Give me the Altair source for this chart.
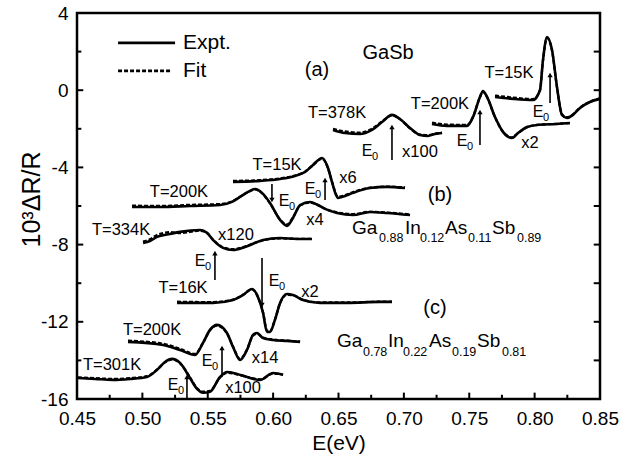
import altair as alt
import pandas as pd

FONT = "Liberation Sans"

# ---------------- Panel (a): GaSb ----------------
a378_x = [0.6458, 0.655, 0.6664, 0.6756, 0.6833, 0.6909, 0.697, 0.7047, 0.7123, 0.7184, 0.7238, 0.7292]
a378_y = [-2.06, -2.22, -2.27, -2.06, -1.65, -1.28, -1.49, -1.96, -2.32, -2.37, -2.27, -2.22]
a378_fit = [-2.00, -2.14, -2.20, -2.00, -1.62, -1.30, -1.50, -1.98, -2.30, -2.33, -2.25, -2.20]

a200_x = [0.7215, 0.733, 0.7483, 0.7529, 0.7582, 0.7605, 0.7636, 0.7697, 0.7758, 0.7827, 0.7873, 0.7942, 0.8018, 0.8171, 0.827]
a200_y = [-1.75, -1.85, -1.85, -1.39, -0.35, -0.04, -0.35, -1.39, -2.16, -2.48, -2.22, -1.91, -1.80, -1.75, -1.70]
a200_fit = [-1.68, -1.78, -1.80, -1.36, -0.36, -0.08, -0.36, -1.40, -2.15, -2.45, -2.22, -1.92, -1.80, -1.74, -1.70]

a15_x = [0.7697, 0.7835, 0.7988, 0.8041, 0.8064, 0.8095, 0.8133, 0.8171, 0.8209, 0.8248, 0.8293, 0.8347, 0.8423, 0.85]
a15_y = [-0.35, -0.45, -0.51, 0.01, 1.57, 2.76, 2.08, 0.17, -1.28, -1.44, -1.28, -0.92, -0.61, -0.45]
a15_fit = [-0.28, -0.38, -0.46, 0.00, 1.55, 2.70, 2.05, 0.15, -1.25, -1.40, -1.25, -0.90, -0.60, -0.42]

# ---------------- Panel (b): Ga0.88In0.12As0.11Sb0.89 ----------------
b15_x = [0.5693, 0.59, 0.6053, 0.6167, 0.6244, 0.6305, 0.6374, 0.642, 0.645, 0.6496, 0.655, 0.6611, 0.6741, 0.6871, 0.7009]
b15_y = [-4.75, -4.70, -4.60, -4.44, -4.24, -3.87, -3.51, -4.03, -4.75, -5.58, -5.48, -5.32, -5.07, -5.01, -5.07]
b15_fit = [-4.70, -4.66, -4.57, -4.42, -4.22, -3.88, -3.55, -4.05, -4.74, -5.52, -5.44, -5.28, -5.05, -5.00, -5.04]

b200_x = [0.4921, 0.5135, 0.5364, 0.5594, 0.5685, 0.5747, 0.5808, 0.5861, 0.5915, 0.5976, 0.6053, 0.6106, 0.6152,
          0.6206, 0.6282, 0.6343, 0.6397, 0.6489, 0.6611, 0.6741, 0.6871, 0.7047]
b200_y = [-6.05, -6.05, -6.00, -5.95, -5.79, -5.53, -5.27, -5.12, -5.32, -5.84, -6.72, -7.03, -6.62,
          -5.95, -5.79, -5.95, -6.15, -6.36, -6.47, -6.31, -6.36, -6.47]
b200_fit = [-5.98, -6.00, -5.94, -5.90, -5.76, -5.52, -5.28, -5.14, -5.34, -5.86, -6.70, -6.96, -6.58,
            -5.98, -5.82, -5.96, -6.14, -6.33, -6.42, -6.30, -6.34, -6.44]

b334_x = [0.5005, 0.5058, 0.5112, 0.5211, 0.5288, 0.5441, 0.5494, 0.554, 0.5617, 0.5693, 0.5785, 0.5923, 0.6053, 0.6183, 0.6297]
b334_y = [-7.91, -7.81, -7.60, -7.45, -7.34, -7.24, -7.39, -7.76, -8.17, -8.28, -8.12, -7.76, -7.66, -7.71, -7.71]
b334_fit = [-7.85, -7.72, -7.50, -7.36, -7.40, -7.28, -7.40, -7.74, -8.14, -8.24, -8.10, -7.78, -7.68, -7.70, -7.70]

# ---------------- Panel (c): Ga0.78In0.22As0.19Sb0.81 ----------------
c16_x = [0.5265, 0.554, 0.5693, 0.577, 0.5838, 0.5884, 0.5923, 0.5953, 0.5976, 0.6014, 0.6053, 0.6106, 0.6152,
         0.6228, 0.6359, 0.6565, 0.6817, 0.6909]
c16_y = [-11.02, -11.02, -10.87, -10.61, -10.30, -10.71, -11.54, -12.52, -12.52, -11.90, -11.02, -10.56, -10.61,
         -10.87, -11.02, -11.02, -10.97, -10.97]
c16_fit = [-10.96, -10.98, -10.85, -10.60, -10.32, -10.72, -11.52, -12.46, -12.48, -11.88, -11.04, -10.60, -10.62,
           -10.86, -11.00, -11.00, -10.96, -10.96]

c200_x = [0.489, 0.5158, 0.5288, 0.5403, 0.5464, 0.5517, 0.5571, 0.5647, 0.5693, 0.5747, 0.58, 0.5846, 0.5877,
          0.5923, 0.5999, 0.6106, 0.6206]
c200_y = [-13.04, -13.20, -13.46, -13.72, -13.09, -12.42, -12.16, -12.58, -13.30, -13.98, -13.46, -12.68, -12.58,
          -12.84, -12.94, -12.99, -13.04]
c200_fit = [-12.98, -13.14, -13.40, -13.66, -13.08, -12.44, -12.20, -12.60, -13.28, -13.92, -13.44, -12.72, -12.62,
            -12.82, -12.92, -12.98, -13.02]

c301_x = [0.4508, 0.4638, 0.4775, 0.4905, 0.5035, 0.5112, 0.5173, 0.5227, 0.5288, 0.5364, 0.5418, 0.5464, 0.5517,
          0.5594, 0.5647, 0.5724, 0.58, 0.59, 0.60, 0.6076]
c301_y = [-14.91, -14.96, -15.01, -14.96, -14.86, -14.49, -14.08, -13.92, -14.13, -14.91, -15.48, -15.68, -15.63,
          -14.86, -14.60, -14.70, -14.86, -15.01, -14.65, -14.75]
c301_fit = [-14.88, -14.92, -14.96, -14.92, -14.82, -14.48, -14.10, -13.95, -14.15, -14.88, -15.44, -15.62, -15.58,
            -14.88, -14.64, -14.72, -14.86, -14.98, -14.68, -14.74]

# ---------------- Labels ----------------
label_text = ["GaSb", "(a)", "T=378K", "T=200K", "T=15K", "x100", "x2",
              "T=15K", "T=200K", "T=334K", "x120", "x6", "x4", "(b)",
              "T=16K", "x2", "T=200K", "x14", "T=301K", "x100", "(c)"]
label_x = [0.6879, 0.6336, 0.6489, 0.7276, 0.7804, 0.7123, 0.7965,
           0.603, 0.528, 0.4837, 0.5716, 0.6573, 0.632, 0.7276,
           0.5311, 0.6282, 0.5074, 0.5938, 0.4768, 0.577, 0.7238]
label_y = [1.93, 1.05, -1.18, -0.715, 0.89, -3.2, -2.74,
           -3.88, -5.27, -7.24, -7.50, -4.55, -6.73, -5.43,
           -10.25, -10.46, -12.42, -13.88, -14.24, -15.43, -11.28]
label_size = [20, 20, 16.5, 16.5, 16.5, 16.5, 16.5,
              16.5, 16.5, 16.5, 16.5, 16.5, 16.5, 20,
              16.5, 16.5, 16.5, 16.5, 16.5, 16.5, 20]

# E0 labels (position of the "E")
e0_x = [0.6718, 0.7445, 0.8026, 0.6083, 0.6282, 0.5441, 0.6007, 0.5494, 0.5234]
e0_y = [-3.15, -2.63, -1.13, -5.74, -5.12, -8.85, -9.89, -14.03, -15.27]

# Arrows marking E0: x, tail, head
arrow_x = [0.6909, 0.7582, 0.8118, 0.5991, 0.6397, 0.5555, 0.5915, 0.5609, 0.5341]
arrow_tail = [-3.62, -2.84, -0.66, -4.86, -5.69, -9.83, -8.69, -14.86, -15.95]
arrow_head = [-1.91, -1.13, 0.79, -5.69, -4.65, -8.44, -11.13, -13.36, -14.86]

# Alloy formulas: segments alternating main / subscript, with x start
form_b_text = ["Ga", "0.88", "In", "0.12", "As", "0.11", "Sb", "0.89"]
form_b_x = [0.6603, 0.681, 0.7009, 0.7123, 0.7315, 0.749, 0.7674, 0.7865]
form_b_y = [-7.14, -7.66]
form_c_text = ["Ga", "0.78", "In", "0.22", "As", "0.19", "Sb", "0.81"]
form_c_x = [0.6489, 0.6687, 0.6879, 0.6993, 0.7192, 0.7368, 0.7559, 0.775]
form_c_y = [-13.02, -13.56]

# Legend
legend_text = ["Expt.", "Fit"]
legend_y = [2.45, 1.0]
legend_line_x = [0.4814, 0.525]
legend_text_x = 0.5311

x_tick_labels = [0.45, 0.50, 0.55, 0.60, 0.65, 0.70, 0.75, 0.80, 0.85]
y_tick_labels = [-16, -12, -8, -4, 0, 4]

# ---------------- Build tables ----------------
curves = [("a378", a378_x, a378_y, a378_fit), ("a200", a200_x, a200_y, a200_fit), ("a15", a15_x, a15_y, a15_fit),
          ("b15", b15_x, b15_y, b15_fit), ("b200", b200_x, b200_y, b200_fit), ("b334", b334_x, b334_y, b334_fit),
          ("c16", c16_x, c16_y, c16_fit), ("c200", c200_x, c200_y, c200_fit), ("c301", c301_x, c301_y, c301_fit)]
rows = []
for name, xs, ys, fs in curves:
    for i, (xv, yv, fv) in enumerate(zip(xs, ys, fs)):
        rows.append({"curve": name, "i": i, "x": xv, "y": yv, "fit": fv})
df = pd.DataFrame(rows)

labels_df = pd.DataFrame({"t": label_text, "x": label_x, "y": label_y, "s": label_size})
e0_df = pd.DataFrame({"x": e0_x, "y": e0_y, "main": ["E"] * len(e0_x), "sub": ["0"] * len(e0_x)})
arrow_df = pd.DataFrame({"x": arrow_x, "y": arrow_tail, "yh": arrow_head})
arrow_df["shape"] = ["triangle-up" if h > t else "triangle-down" for t, h in zip(arrow_tail, arrow_head)]

form_rows = []
for texts, xs, ys in [(form_b_text, form_b_x, form_b_y), (form_c_text, form_c_x, form_c_y)]:
    for k, (t, xv) in enumerate(zip(texts, xs)):
        sub = k % 2 == 1
        form_rows.append({"t": t, "x": xv, "y": ys[1] if sub else ys[0], "s": 12.5 if sub else 19})
form_df = pd.DataFrame(form_rows)

legend_df = pd.DataFrame({"t": legend_text, "x": [legend_text_x] * 2, "y": legend_y,
                          "x1": [legend_line_x[0]] * 2, "xe": [legend_line_x[1], legend_line_x[1] - 0.0023],
                          "kind": ["expt", "fit"]})

# inward ticks
xmaj = [round(0.45 + 0.05 * k, 3) for k in range(9)]
xmin_ = [round(0.475 + 0.05 * k, 3) for k in range(8)]
ymaj = [-16 + 4 * k for k in range(6)]
ymin_ = [-14 + 4 * k for k in range(5)]
tick_rows = []
for v in xmaj:
    tick_rows.append({"x": v, "xe": v, "y": -16, "ye": -16 + 0.33})
for v in xmin_:
    tick_rows.append({"x": v, "xe": v, "y": -16, "ye": -16 + 0.22})
for v in ymaj:
    tick_rows.append({"x": 0.45, "xe": 0.45 + 0.0048, "y": v, "ye": v})
    tick_rows.append({"x": 0.85, "xe": 0.85 - 0.0048, "y": v, "ye": v})
for v in ymin_:
    tick_rows.append({"x": 0.45, "xe": 0.45 + 0.0033, "y": v, "ye": v})
    tick_rows.append({"x": 0.85, "xe": 0.85 - 0.0048, "y": v, "ye": v})
ticks_df = pd.DataFrame(tick_rows)

# ---------------- Chart ----------------
xs_ = alt.Scale(domain=[0.45, 0.85], nice=False, zero=False)
ys_ = alt.Scale(domain=[-16, 4], nice=False, zero=False)

x_axis = alt.Axis(values=x_tick_labels, format=".2f", ticks=False, domain=False, grid=False,
                  labelFontSize=19, labelFont=FONT, labelColor="black", labelPadding=10,
                  labelFlush=False, labelOverlap=False,
                  title="E(eV)", titleFontSize=21, titleFont=FONT, titleFontWeight="normal",
                  titleColor="black", titlePadding=4)
y_axis = alt.Axis(values=y_tick_labels, labelExpr="'' + datum.value", ticks=False, domain=False, grid=False,
                  labelFontSize=19, labelFont=FONT, labelColor="black", labelPadding=9,
                  labelFlush=False, labelOverlap=False,
                  title="10³ΔR/R", titleFontSize=25, titleFont=FONT, titleFontWeight="normal",
                  titleColor="black", titleAngle=270, titleAlign="center", titleBaseline="middle",
                  titleX=-46, titleY=186)


def X(field):
    return alt.X(field, scale=xs_, axis=x_axis)


def Y(field):
    return alt.Y(field, scale=ys_, axis=y_axis)


expt = alt.Chart(df).mark_line(color="black", strokeWidth=2.6, interpolate="monotone").encode(
    x=X("x:Q"), y=Y("y:Q"), detail="curve:N", order="i:Q")

fit = alt.Chart(df).mark_line(color="black", strokeWidth=2.3, strokeDash=[4, 2], interpolate="monotone").encode(
    x=X("x:Q"), y=Y("fit:Q"), detail="curve:N", order="i:Q")

ticks = alt.Chart(ticks_df).mark_rule(color="black", strokeWidth=2).encode(
    x=X("x:Q"), x2="xe:Q", y=Y("y:Q"), y2="ye:Q")

labels = alt.Chart(labels_df).mark_text(font=FONT, color="black", baseline="middle", align="center").encode(
    x=X("x:Q"), y=Y("y:Q"), text="t:N", size=alt.Size("s:Q", scale=None, legend=None))

e_lbl = alt.Chart(e0_df).mark_text(font=FONT, fontSize=16, baseline="middle", align="center",
                                   fill="black").encode(
    x=X("x:Q"), y=Y("y:Q"), text="main:N")
e_sub = alt.Chart(e0_df).mark_text(font=FONT, fontSize=11, baseline="middle", align="center",
                                   dx=8, dy=6, fill="black").encode(
    x=X("x:Q"), y=Y("y:Q"), text="sub:N")

arrows = alt.Chart(arrow_df).mark_rule(color="black", strokeWidth=1.6).encode(
    x=X("x:Q"), y=Y("y:Q"), y2="yh:Q")
heads = alt.Chart(arrow_df).mark_point(filled=True, opacity=1, size=28).encode(
    x=X("x:Q"), y=Y("yh:Q"),
    shape=alt.Shape("shape:N", scale=None, legend=None), color=alt.value("black"))

formulas = alt.Chart(form_df).mark_text(font=FONT, color="black", baseline="middle", align="left").encode(
    x=X("x:Q"), y=Y("y:Q"), text="t:N", size=alt.Size("s:Q", scale=None, legend=None))

leg_lines = alt.Chart(legend_df).mark_rule(color="black", strokeWidth=2.6).encode(
    x=X("x1:Q"), x2="xe:Q", y=Y("y:Q"),
    strokeDash=alt.StrokeDash("kind:N", scale=alt.Scale(domain=["expt", "fit"], range=[[1, 0], [4, 2]]), legend=None))
leg_text = alt.Chart(legend_df).mark_text(font=FONT, color="black", fontSize=21, baseline="middle", align="left").encode(
    x=X("x:Q"), y=Y("y:Q"), text="t:N")

chart = alt.layer(expt, fit, ticks, labels, e_lbl, e_sub, arrows, heads, formulas, leg_lines, leg_text).properties(
    width=523, height=386,
    autosize=alt.AutoSizeParams(type="none"),
    padding={"left": 77, "top": 13, "right": 43, "bottom": 61},
    background="white",
).configure_view(stroke="black", strokeWidth=2.5)

chart.save("out.html", embed_options={"renderer": "svg", "actions": False})
